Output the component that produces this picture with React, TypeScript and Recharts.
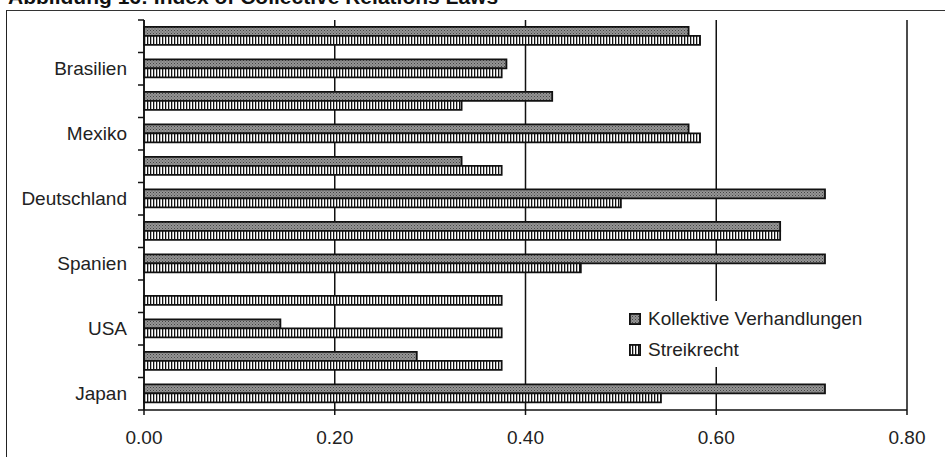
import React from 'react';
import { BarChart, Bar, XAxis, YAxis, CartesianGrid } from 'recharts';

// rows from top to bottom; only every second row carries a country label
const rowLabels = ['', 'Brasilien', '', 'Mexiko', '', 'Deutschland', '', 'Spanien', '', 'USA', '', 'Japan'];
const kollektiv = [0.571, 0.38, 0.428, 0.571, 0.333, 0.714, 0.667, 0.714, 0, 0.143, 0.286, 0.714];
const streik = [0.583, 0.375, 0.333, 0.583, 0.375, 0.5, 0.667, 0.458, 0.375, 0.375, 0.375, 0.542];
const xTicks = [0, 0.2, 0.4, 0.6, 0.8];
const seriesNames = ['Kollektive Verhandlungen', 'Streikrecht'];

const data = rowLabels.map((label, i) => ({
  id: `r${i}`,
  label,
  kollektiv: kollektiv[i],
  streik: streik[i],
}));

const FONT = 'Arial, "Liberation Sans", sans-serif';

const YTick = (props: any) => {
  const { x, y, payload, index } = props;
  const half = payload && payload.offset ? payload.offset : 16.25;
  const axisX = x + 17;
  return (
    <g>
      <line x1={axisX - 6} x2={axisX} y1={y - half} y2={y - half} stroke="#111" strokeWidth={1.5} />
      {index === rowLabels.length - 1 && (
        <line x1={axisX - 6} x2={axisX} y1={y + half} y2={y + half} stroke="#111" strokeWidth={1.5} />
      )}
      <text x={x} y={y} dy="0.35em" textAnchor="end" fontSize={19} fill="#222" fontFamily={FONT}>
        {rowLabels[index]}
      </text>
    </g>
  );
};

const LegendBox = () => (
  <div
    style={{
      position: 'absolute',
      left: 620,
      top: 301,
      background: '#fff',
      padding: '2px 8px 2px 9px',
      fontFamily: FONT,
      fontSize: 19,
      color: '#222',
    }}
  >
    {[
      { fill: 'url(#kollPat)', name: seriesNames[0] },
      { fill: 'url(#streikPat)', name: seriesNames[1] },
    ].map((item) => (
      <div key={item.name} style={{ display: 'flex', alignItems: 'center', height: 31 }}>
        <svg width={12} height={12} style={{ marginRight: 7 }}>
          <rect x={0.9} y={0.9} width={10.2} height={10.2} fill={item.fill} stroke="#111" strokeWidth={1.8} />
        </svg>
        <span>{item.name}</span>
      </div>
    ))}
  </div>
);

export default function App() {
  return (
    <div style={{ position: 'relative', width: 945, height: 457, background: '#fff', overflow: 'hidden' }}>
      <style>{'body{margin:0}'}</style>
      <div
        style={{
          position: 'absolute',
          left: 8,
          top: -15,
          fontFamily: FONT,
          fontWeight: 'bold',
          fontSize: 21,
          color: '#111',
          whiteSpace: 'nowrap',
        }}
      >
        Abbildung 16: Index of Collective Relations Laws
      </div>
      <div
        style={{
          position: 'absolute',
          left: 6,
          top: 10,
          width: 960,
          height: 470,
          borderLeft: '1.5px solid #222',
          borderTop: '1.5px solid #333',
        }}
      />
      <div style={{ position: 'absolute', left: 0, top: 0 }}>
        <BarChart
          width={945}
          height={457}
          data={data}
          layout="vertical"
          margin={{ top: 20, right: 38, left: 0, bottom: 0 }}
          barCategoryGap="21%"
          barGap={0}
        >
          <defs>
            <pattern id="kollPat" width={3} height={3} patternUnits="userSpaceOnUse">
              <rect width={3} height={3} fill="#959595" />
              <rect x={0} y={0} width={1} height={1} fill="#444" />
              <rect x={1.5} y={1.5} width={1} height={1} fill="#555" />
            </pattern>
            <pattern id="streikPat" width={3} height={4} patternUnits="userSpaceOnUse">
              <rect width={3} height={4} fill="#fff" />
              <rect x={0} y={0} width={1.3} height={4} fill="#111" />
            </pattern>
          </defs>
          <CartesianGrid horizontal={false} stroke="#111" strokeWidth={1.5} />
          <XAxis
            type="number"
            domain={[0, 0.8]}
            ticks={xTicks}
            tickFormatter={(v: number) => v.toFixed(2)}
            axisLine={{ stroke: '#111', strokeWidth: 1.5 }}
            tickLine={{ stroke: '#111', strokeWidth: 1.5 }}
            tickSize={5}
            tickMargin={16}
            height={47}
            tick={{ fontSize: 19, fill: '#222', fontFamily: FONT }}
          />
          <YAxis
            type="category"
            dataKey="id"
            width={144}
            axisLine={{ stroke: '#111', strokeWidth: 1.5 }}
            tickLine={false}
            tickSize={0}
            tickMargin={17}
            interval={0}
            tick={<YTick />}
          />
          <Bar
            dataKey="kollektiv"
            name={seriesNames[0]}
            fill="url(#kollPat)"
            stroke="#111"
            strokeWidth={1.8}
            isAnimationActive={false}
          />
          <Bar
            dataKey="streik"
            name={seriesNames[1]}
            fill="url(#streikPat)"
            stroke="#111"
            strokeWidth={1.8}
            isAnimationActive={false}
          />
        </BarChart>
      </div>
      <LegendBox />
    </div>
  );
}
